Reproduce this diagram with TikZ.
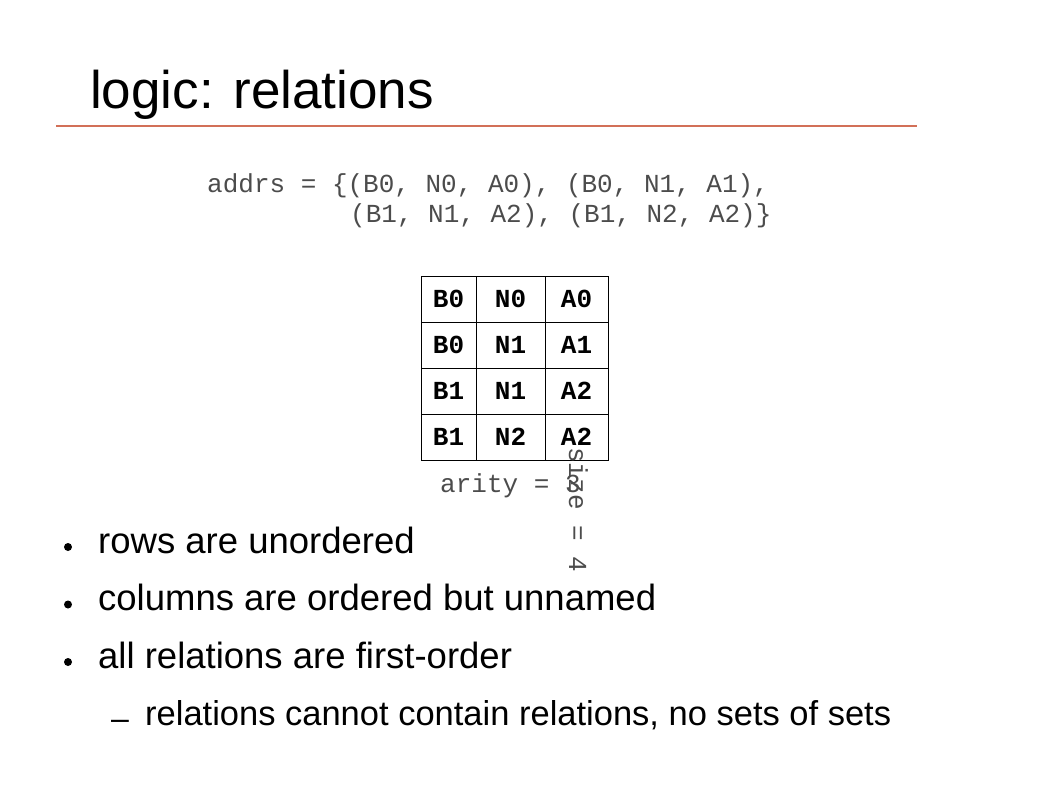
\documentclass[tikz,border=0pt]{standalone}
\usepackage{fontspec}
\setmainfont{Liberation Sans}
\setmonofont{Liberation Mono}
\definecolor{rulecol}{RGB}{210,112,88}

\begin{document}
\begin{tikzpicture}[x=1pt,y=-1pt,
    code/.style={font=\fontsize{26}{30}\selectfont\ttfamily,text=black!70,inner sep=0pt},
    cell/.style={font=\fontsize{26}{30}\selectfont\ttfamily\bfseries,inner sep=0pt},
    item/.style={font=\fontsize{36.5}{44}\selectfont,anchor=base west,inner sep=0pt},
    dot/.style={circle,fill=black,inner sep=0pt,minimum size=8pt}]
    \useasboundingbox (0,0) rectangle (1058,793);
    \node[anchor=base west,inner sep=0pt,font=\fontsize{53}{60}\selectfont] (title) at (90,108) {logic: relations};
    \draw[rulecol,line width=2.3pt] (56,126) -- (917,126);
    \node[code,anchor=base west] (addrsa) at (207,192) {addrs = \{(B0, N0, A0), (B0, N1, A1),};
    \node[code,anchor=base west] (addrsb) at (350,222) {(B1, N1, A2), (B1, N2, A2)\}};
    % the table
    \draw[line width=0.8pt] (421,276) rectangle (608,460);
    \foreach \y in {322,368,414}
      \draw[line width=0.8pt] (421,\y) -- (608,\y);
    \foreach \x in {476,545}
      \draw[line width=0.8pt] (\x,276) -- (\x,460);
    \foreach \b/\n/\a [count=\r] in {B0/N0/A0,B0/N1/A1,B1/N1/A2,B1/N2/A2} {
      \node[cell] (b\r) at (448.5,{253+46*\r}) {\b};
      \node[cell] (n\r) at (510.5,{253+46*\r}) {\n};
      \node[cell] (a\r) at (576.5,{253+46*\r}) {\a};
    }
    \node[code,anchor=base west] (arity) at (440,492) {arity = 3};
    \node[code,anchor=base west,rotate=-90] (size) at (569,447) {size = 4};
    % bullets
    \foreach \t [count=\i] in {rows are unordered,columns are ordered but unnamed,all relations are first-order} {
      \node[dot] (d\i) at (68,{489.5+57.5*\i}) {};
      \node[item] (t\i) at (98,{495.5+57.5*\i}) {\t};
    }
    \node[anchor=base west,inner sep=0pt,font=\fontsize{32}{36}\selectfont] (dash) at (111,729) {–};
    \node[item,font=\fontsize{34.5}{40}\selectfont] (sub) at (145,725) {relations cannot contain relations, no sets of sets};
\end{tikzpicture}
\end{document}
